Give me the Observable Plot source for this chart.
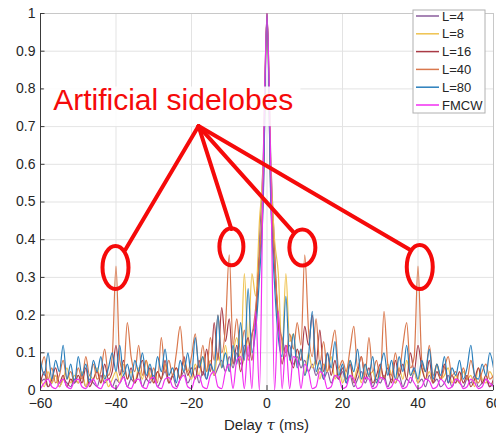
<!DOCTYPE html>
<html>
<head>
<meta charset="utf-8">
<script src="https://cdn.jsdelivr.net/npm/d3@7"></script>
<script src="https://cdn.jsdelivr.net/npm/@observablehq/plot@0.6"></script>
<style>
  html, body { margin: 0; padding: 0; background: #fff; }
  #chart { position: relative; width: 496px; height: 442px; }
</style>
</head>
<body>
<div id="chart"></div>
<script>
// ---------- data ----------
const seriesNames = ["L=4", "L=8", "L=16", "L=40", "L=80", "FMCW"];
const xTicks = [-60, -40, -20, 0, 20, 40, 60];
const yTicks = [0, 0.1, 0.2, 0.3, 0.4, 0.5, 0.6, 0.7, 0.8, 0.9, 1];
const delay = d3.range(-60, 61, 1); // ms, sample grid

// each array: -60..-51, -50..-41, -40..-31, -30..-21, -20..-11, -10..-1, 0, 1..10, 11..20, 21..30, 31..40, 41..50, 51..60
const L4 = [
  0.02,0.03,0.01,0.02,0.04,0.01,0.03,0.02,0.01,0.03,
  0.02,0.04,0.01,0.03,0.02,0.01,0.04,0.02,0.03,0.01,
  0.03,0.02,0.04,0.01,0.03,0.02,0.05,0.01,0.03,0.02,
  0.04,0.01,0.03,0.05,0.02,0.04,0.01,0.03,0.05,0.02,
  0.04,0.06,0.02,0.05,0.03,0.07,0.04,0.06,0.08,0.05,
  0.09,0.06,0.10,0.07,0.12,0.09,0.15,0.18,0.40,0.62,
  1,
  0.62,0.38,0.17,0.14,0.10,0.12,0.07,0.09,0.06,0.08,
  0.05,0.07,0.04,0.06,0.03,0.05,0.02,0.04,0.03,0.05,
  0.02,0.04,0.01,0.03,0.05,0.02,0.04,0.01,0.03,0.02,
  0.04,0.01,0.03,0.02,0.04,0.01,0.03,0.02,0.05,0.02,
  0.03,0.01,0.04,0.02,0.03,0.01,0.02,0.04,0.01,0.03,
  0.02,0.01,0.03,0.02,0.04,0.01,0.02,0.03,0.01,0.02
];
const L8 = [
  0.03,0.01,0.05,0.02,0.04,0.01,0.03,0.06,0.02,0.04,
  0.02,0.05,0.01,0.04,0.03,0.06,0.02,0.04,0.01,0.03,
  0.05,0.02,0.07,0.03,0.05,0.02,0.06,0.03,0.08,0.04,
  0.02,0.05,0.03,0.07,0.02,0.04,0.06,0.03,0.08,0.05,
  0.03,0.07,0.04,0.09,0.05,0.08,0.04,0.10,0.06,0.12,
  0.05,0.10,0.14,0.08,0.31,0.12,0.31,0.25,0.45,0.60,
  1,
  0.60,0.40,0.31,0.10,0.31,0.13,0.15,0.07,0.11,0.04,
  0.10,0.06,0.08,0.03,0.07,0.05,0.09,0.03,0.06,0.02,
  0.05,0.08,0.03,0.06,0.02,0.07,0.04,0.05,0.02,0.06,
  0.03,0.07,0.04,0.02,0.06,0.03,0.08,0.04,0.05,0.02,
  0.06,0.03,0.05,0.02,0.07,0.03,0.04,0.06,0.02,0.04,
  0.02,0.05,0.03,0.04,0.01,0.06,0.03,0.02,0.05,0.03
];
const L16 = [
  0.02,0.05,0.01,0.03,0.06,0.02,0.04,0.01,0.03,0.02,
  0.04,0.02,0.06,0.01,0.03,0.05,0.02,0.07,0.03,0.05,
  0.12,0.04,0.08,0.03,0.06,0.02,0.05,0.08,0.03,0.06,
  0.02,0.05,0.03,0.08,0.02,0.04,0.06,0.03,0.09,0.04,
  0.06,0.03,0.08,0.04,0.11,0.05,0.18,0.08,0.22,0.13,
  0.19,0.07,0.12,0.05,0.10,0.14,0.08,0.20,0.35,0.52,
  1,
  0.52,0.33,0.18,0.07,0.12,0.09,0.06,0.11,0.08,0.17,
  0.12,0.20,0.07,0.16,0.05,0.10,0.04,0.08,0.03,0.06,
  0.03,0.07,0.02,0.05,0.09,0.03,0.06,0.02,0.04,0.07,
  0.03,0.06,0.02,0.08,0.04,0.07,0.03,0.10,0.05,0.12,
  0.06,0.03,0.08,0.02,0.05,0.03,0.07,0.02,0.04,0.02,
  0.05,0.02,0.04,0.01,0.03,0.06,0.02,0.04,0.01,0.03
];
const L40 = [
  0.05,0.09,0.03,0.06,0.02,0.04,0.08,0.03,0.05,0.02,
  0.06,0.03,0.09,0.04,0.07,0.03,0.05,0.11,0.04,0.09,
  0.33,0.08,0.05,0.18,0.09,0.05,0.12,0.04,0.08,0.03,
  0.06,0.02,0.14,0.05,0.08,0.04,0.10,0.17,0.07,0.05,
  0.09,0.15,0.06,0.12,0.05,0.14,0.08,0.20,0.10,0.17,
  0.36,0.12,0.19,0.10,0.16,0.08,0.14,0.22,0.35,0.55,
  1,
  0.55,0.35,0.20,0.13,0.09,0.15,0.11,0.18,0.12,0.36,
  0.16,0.09,0.19,0.07,0.13,0.05,0.11,0.16,0.06,0.08,
  0.05,0.11,0.17,0.06,0.09,0.04,0.14,0.05,0.08,0.03,
  0.21,0.07,0.04,0.10,0.05,0.12,0.18,0.06,0.09,0.33,
  0.08,0.05,0.12,0.04,0.07,0.03,0.06,0.09,0.04,0.05,
  0.02,0.06,0.03,0.08,0.04,0.02,0.05,0.07,0.03,0.04
];
const L80 = [
  0.08,0.04,0.10,0.03,0.08,0.05,0.12,0.03,0.07,0.02,
  0.09,0.04,0.07,0.02,0.08,0.05,0.09,0.03,0.06,0.10,
  0.05,0.12,0.04,0.07,0.03,0.08,0.05,0.10,0.04,0.07,
  0.03,0.09,0.05,0.11,0.04,0.06,0.02,0.08,0.05,0.10,
  0.04,0.14,0.06,0.09,0.03,0.07,0.05,0.20,0.06,0.10,
  0.05,0.12,0.07,0.18,0.08,0.27,0.10,0.16,0.30,0.50,
  1,
  0.50,0.28,0.14,0.09,0.25,0.08,0.15,0.06,0.11,0.04,
  0.09,0.21,0.05,0.08,0.03,0.10,0.06,0.13,0.04,0.07,
  0.02,0.08,0.05,0.11,0.03,0.07,0.04,0.09,0.02,0.06,
  0.10,0.04,0.08,0.03,0.09,0.05,0.12,0.04,0.06,0.03,
  0.08,0.05,0.11,0.03,0.07,0.04,0.09,0.02,0.06,0.04,
  0.08,0.03,0.06,0.12,0.04,0.03,0.07,0.04,0.10,0.06
];
const FMCW = [
  0.005,0.02,0.03,0.01,0.005,0.02,0.03,0.01,0.005,0.025,
  0.03,0.01,0.005,0.02,0.03,0.01,0.005,0.025,0.03,0.01,
  0.005,0.02,0.035,0.01,0.005,0.025,0.03,0.01,0.005,0.03,
  0.035,0.01,0.005,0.03,0.035,0.01,0.005,0.03,0.04,0.01,
  0.005,0.035,0.04,0.01,0.005,0.04,0.05,0.01,0.005,0.05,
  0.07,0.005,0.08,0.09,0.005,0.12,0.005,0.21,0.0,0.58,
  1,
  0.58,0.0,0.21,0.005,0.12,0.005,0.09,0.08,0.005,0.07,
  0.05,0.005,0.01,0.05,0.04,0.005,0.01,0.04,0.035,0.005,
  0.01,0.04,0.03,0.005,0.01,0.035,0.03,0.005,0.01,0.035,
  0.03,0.005,0.01,0.03,0.025,0.005,0.01,0.035,0.02,0.005,
  0.01,0.03,0.025,0.005,0.01,0.03,0.02,0.005,0.01,0.03,
  0.025,0.005,0.01,0.03,0.02,0.005,0.01,0.03,0.02,0.01
];
const seriesValues = [L4, L8, L16, L40, L80, FMCW];

// annotation (data coordinates)
const annoText = "Artificial sidelobes";
const annoTextPos = {x: -56.5, y: 0.744};     // baseline-left of the text
const annoBox = {x1: -59.0, x2: 9.0, y1: 0.805, y2: 0.70};
const annoOrigin = {x: -18.0, y: 0.70};
const annoTargets = [
  {x: -37.4, y: 0.372, cx: -40.0, cy: 0.325, rx: 13, ry: 21.5},
  {x: -9.3,  y: 0.427, cx: -9.3,  cy: 0.38,  rx: 12, ry: 18.5},
  {x: 7.0,   y: 0.42,  cx: 9.5,   cy: 0.378, rx: 13, ry: 18},
  {x: 38.0,  y: 0.372, cx: 40.6,  cy: 0.326, rx: 13, ry: 22}
];

// ---------- styles ----------
const colors = ["#8a5c9c", "#efc24e", "#a93a45", "#d9784d", "#2a7fbc", "#f22ef2"];
const font = "'Liberation Sans', Arial, Helvetica, sans-serif";
const red = "#f50a0a";

const rows = [];
seriesNames.forEach((name, i) => {
  const vals = seriesValues[i];
  if (vals.length !== delay.length) throw new Error(name + " has " + vals.length + " values");
  vals.forEach((v, j) => rows.push({delay: delay[j], value: v, series: name}));
});

const plot = Plot.plot({
  width: 496,
  height: 442,
  marginLeft: 40,
  marginRight: 3,
  marginTop: 13,
  marginBottom: 52,
  style: {fontFamily: font, fontSize: "14px", color: "#262626", background: "#fff"},
  x: {domain: [-60, 60]},
  y: {domain: [0, 1]},
  color: {domain: seriesNames, range: colors},
  marks: [
    Plot.gridX(xTicks, {stroke: "#e3e3e3", strokeOpacity: 1}),
    Plot.gridY(yTicks, {stroke: "#e3e3e3", strokeOpacity: 1}),
    Plot.frame({stroke: "#c8c8c8"}),
    Plot.line(rows, {x: "delay", y: "value", z: "series", stroke: "series", strokeWidth: 1.2, curve: "monotone-x", clip: true}),
    Plot.ruleX([-60], {stroke: "#3a3a3a"}),
    Plot.ruleY([0], {stroke: "#3a3a3a"}),
    Plot.ruleX(xTicks, {y1: 0, y2: 0.013, stroke: "#3a3a3a"}),
    Plot.ruleY(yTicks, {x1: -60, x2: -58.8, stroke: "#3a3a3a"}),
    Plot.axisX(xTicks, {tickSize: 0, tickPadding: 8, label: null, fontSize: 14}),
    Plot.axisY(yTicks, {tickSize: 0, tickPadding: 5, label: null, fontSize: 14, tickFormat: d => String(d)})
  ]
});

document.getElementById("chart").appendChild(plot);

const sx = plot.scale("x"), sy = plot.scale("y");
const svg = d3.select(plot);

// x axis label with italic tau
const xl = svg.append("text")
  .attr("x", sx.apply(0)).attr("y", 430)
  .attr("text-anchor", "middle")
  .attr("font-family", font).attr("font-size", 15).attr("fill", "#262626");
xl.append("tspan").text("Delay ");
xl.append("tspan").attr("font-style", "italic").attr("font-family", "'DejaVu Serif', serif").text("τ");
xl.append("tspan").text(" (ms)");

// annotation
const ag = svg.append("g");
ag.append("rect")
  .attr("x", sx.apply(annoBox.x1)).attr("y", sy.apply(annoBox.y1))
  .attr("width", sx.apply(annoBox.x2) - sx.apply(annoBox.x1))
  .attr("height", sy.apply(annoBox.y2) - sy.apply(annoBox.y1))
  .attr("fill", "#fff").attr("fill-opacity", 0.85);
ag.append("text")
  .attr("x", sx.apply(annoTextPos.x)).attr("y", sy.apply(annoTextPos.y))
  .attr("text-anchor", "start")
  .attr("font-family", font).attr("font-size", 30).attr("fill", red)
  .text(annoText);

annoTargets.forEach(t => {
  ag.append("line")
    .attr("x1", sx.apply(annoOrigin.x)).attr("y1", sy.apply(annoOrigin.y))
    .attr("x2", sx.apply(t.x)).attr("y2", sy.apply(t.y))
    .attr("stroke", red).attr("stroke-width", 4).attr("stroke-linecap", "round");
  ag.append("ellipse")
    .attr("cx", sx.apply(t.cx)).attr("cy", sy.apply(t.cy))
    .attr("rx", t.rx).attr("ry", t.ry)
    .attr("fill", "none").attr("stroke", red).attr("stroke-width", 4);
});

// legend
const lg = svg.append("g").attr("transform", "translate(413,10)");
lg.append("rect").attr("width", 72).attr("height", 103)
  .attr("fill", "#fff").attr("stroke", "#b0b0b0").attr("stroke-width", 1);
seriesNames.forEach((name, i) => {
  const y = 6 + i * 17.8;
  lg.append("line").attr("x1", 3).attr("x2", 26).attr("y1", y).attr("y2", y)
    .attr("stroke", colors[i]).attr("stroke-width", 1.5);
  lg.append("text").attr("x", 29).attr("y", y).attr("dy", "0.35em")
    .attr("text-anchor", "start")
    .attr("font-family", font).attr("font-size", 13).attr("fill", "#262626")
    .text(name);
});
</script>
</body>
</html>
